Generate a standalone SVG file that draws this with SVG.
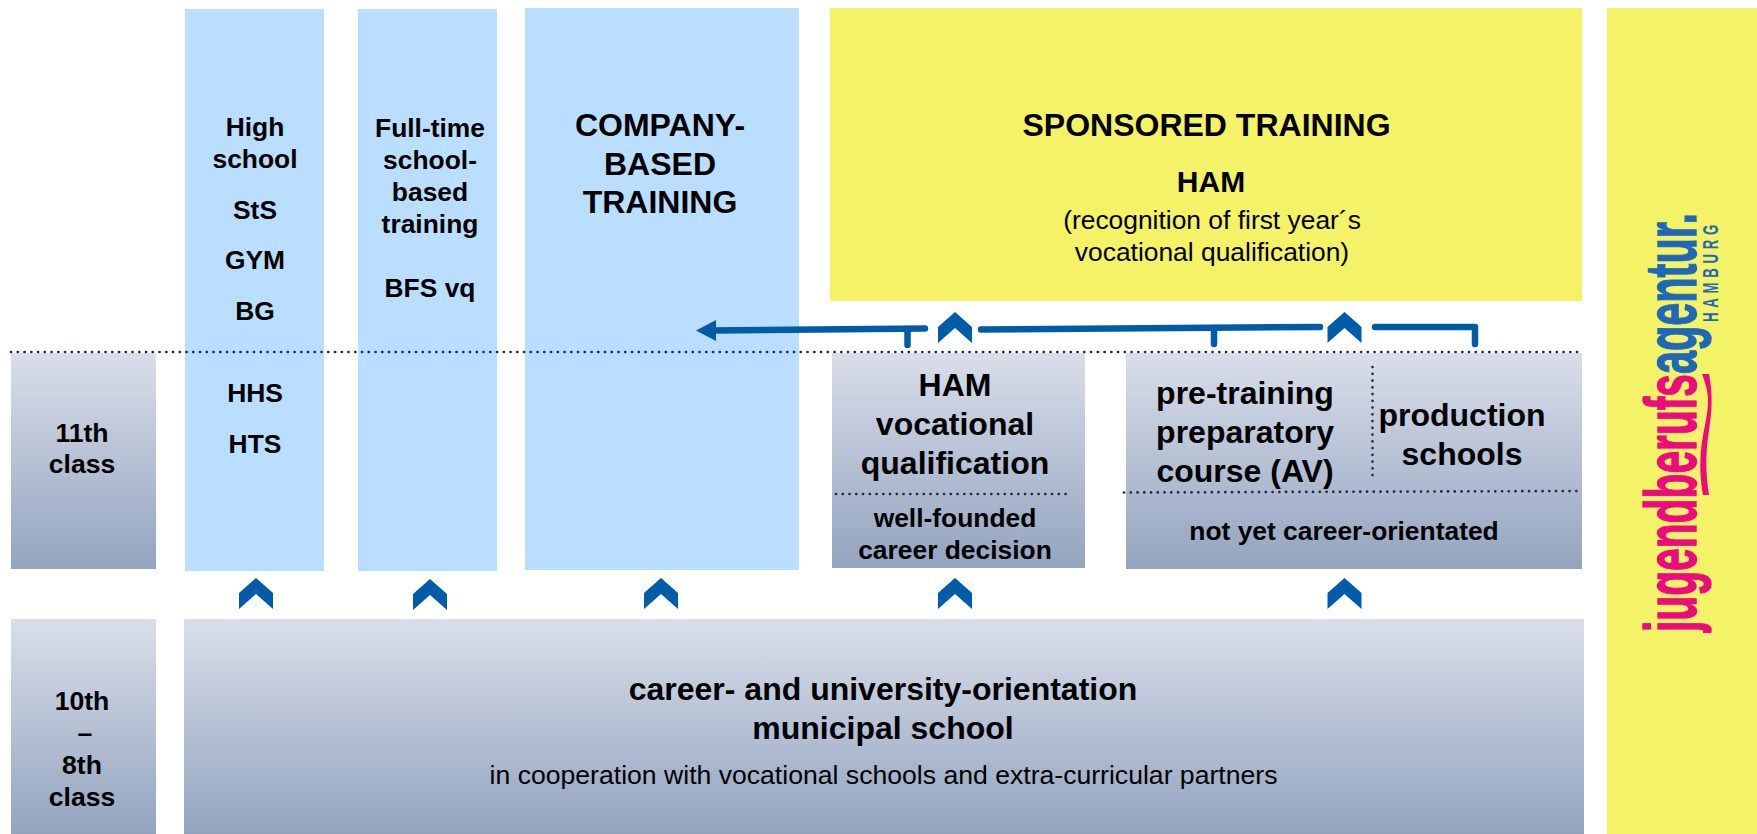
<svg xmlns="http://www.w3.org/2000/svg" width="1757" height="834" viewBox="0 0 1757 834">
<defs>
<linearGradient id="g" x1="0" y1="0" x2="0" y2="1"><stop offset="0" stop-color="#D9DEE9"/><stop offset="1" stop-color="#93A4BF"/></linearGradient>
<path id="chev" d="M0,-16 L17,-1 L17,15 L0,0 L-17,15 L-17,-1 Z" fill="#005CA9"/>
</defs>
<style>
text{font-family:"Liberation Sans",Arial,sans-serif;fill:#000;text-anchor:middle}
.b{font-weight:700}
.s26{font-size:26.4px}.s27{font-size:26.600px}.s30{font-size:30px}.s32{font-size:32px}
.blue{fill:#B9DEFF}.yel{fill:#F4F266}.gray{fill:url(#g)}
.dot{fill:none;stroke:#1E2A48;stroke-width:2.7;stroke-linecap:round;stroke-dasharray:0.1 6.65}
.ln{fill:none;stroke:#005CA9;stroke-width:6.5;stroke-linecap:round;stroke-linejoin:round}
.logo{font-weight:700;text-anchor:start;stroke-width:1.4}
</style>
<rect width="1757" height="834" fill="#fff"/>
<g id="node-high-school"><rect class="blue" x="185" y="9" width="139" height="562"/>
<text class="b s26" x="255" y="136">High</text><text class="b s26" x="255" y="168">school</text><text class="b s26" x="255" y="219">StS</text><text class="b s26" x="255" y="269">GYM</text><text class="b s26" x="255" y="320">BG</text><text class="b s26" x="255" y="402">HHS</text><text class="b s26" x="255" y="453">HTS</text></g>
<g id="node-full-time"><rect class="blue" x="358" y="9" width="139" height="562"/>
<text class="b s26" x="430" y="137">Full-time</text><text class="b s26" x="430" y="169">school-</text><text class="b s26" x="430" y="201">based</text><text class="b s26" x="430" y="233">training</text><text class="b s26" x="430" y="297">BFS vq</text></g>
<g id="node-company"><rect class="blue" x="525" y="8" width="274" height="562"/>
<text class="b s32" x="660" y="136">COMPANY-</text><text class="b s32" x="660" y="175">BASED</text><text class="b s32" x="660" y="213">TRAINING</text></g>
<g id="node-sponsored"><rect class="yel" x="830" y="8" width="752" height="293"/>
<text class="b s32" x="1206.500" y="136">SPONSORED TRAINING</text><text class="b s30" x="1211" y="192">HAM</text><text class="s26" x="1212" y="229">(recognition of first year´s</text><text class="s26" x="1212" y="261">vocational qualification)</text></g>
<g id="node-11th"><rect class="gray" x="11" y="353" width="145" height="216"/>
<text class="b s27" x="82" y="442">11th</text><text class="b s27" x="82" y="473">class</text></g>
<g id="node-ham-vq"><rect class="gray" x="832" y="353" width="253" height="215"/>
<text class="b s32" x="955" y="396">HAM</text><text class="b s32" x="955" y="435">vocational</text><text class="b s32" x="955" y="474">qualification</text>
<text class="b s26" x="955" y="527">well-founded</text><text class="b s26" x="955" y="559">career decision</text></g>
<g id="node-pretraining"><rect class="gray" x="1126" y="353" width="456" height="216"/>
<text class="b s32" x="1245" y="404">pre-training</text><text class="b s32" x="1245" y="443">preparatory</text><text class="b s32" x="1245" y="482">course (AV)</text>
<text class="b s32" x="1462" y="426">production</text><text class="b s32" x="1462" y="465">schools</text>
<text class="b s26" x="1344" y="540">not yet career-orientated</text></g>
<g id="node-10th"><rect class="gray" x="11" y="619" width="145" height="215"/>
<text class="b s27" x="82" y="710">10th</text><text class="b s27" x="85" y="742">–</text><text class="b s27" x="82" y="774">8th</text><text class="b s27" x="82" y="806">class</text></g>
<g id="node-career"><rect class="gray" x="184" y="619" width="1400" height="215"/>
<text class="b s32" x="883" y="700">career- and university-orientation</text><text class="b s32" x="883" y="739">municipal school</text><text class="s27" x="883.500" y="784">in cooperation with vocational schools and extra-curricular partners</text></g>
<g id="node-logo"><rect class="yel" x="1607" y="8" width="150" height="826"/>
<text x="0" y="0" class="logo" transform="translate(1696,632) rotate(-90)" style="font-size:73px;fill:#EC0A7E;stroke:#EC0A7E" textLength="258" lengthAdjust="spacingAndGlyphs">jugendberufs</text>
<text x="0" y="0" class="logo" transform="translate(1696,374) rotate(-90)" style="font-size:73px;fill:#1F68B9;stroke:#1F68B9" textLength="161" lengthAdjust="spacingAndGlyphs">agentur.</text>
<text x="0" y="0" transform="translate(1718,322) rotate(-90) scale(0.6,1)" style="font-size:22px;font-weight:700;fill:#1F68B9;text-anchor:start" textLength="162" lengthAdjust="spacing">HAMBURG</text>
<path d="M1703,495 C1698,465 1701,445 1705,425 C1709,405 1710,395 1702,374 L1709,374 C1713,395 1712,410 1709,430 C1706,450 1705,470 1709,495 Z" fill="#EC0A7E"/></g>
<g id="connectors">
<path class="dot" d="M11,352 H1582"/>
<path class="dot" d="M836,494 H1068"/>
<path class="dot" d="M1124,492.500 L1580,491"/>
<path class="dot" d="M1372.500,367 V477"/>
<path class="ln" d="M714,330.500 L925,328.500"/><path d="M696,330.500 L716,320 L716,341 Z" fill="#005CA9"/>
<path class="ln" d="M907.500,329 V345"/>
<path class="ln" d="M981,329.500 L1320,327"/><path class="ln" d="M1214,328 V344"/>
<path class="ln" d="M1375,327 H1475 V344"/>
<use href="#chev" x="955" y="328"/><use href="#chev" x="1344.500" y="328"/>
<use href="#chev" x="256" y="594"/><use href="#chev" x="430" y="595"/><use href="#chev" x="661" y="594"/><use href="#chev" x="955" y="594"/><use href="#chev" x="1344.500" y="594"/>
</g>
</svg>
